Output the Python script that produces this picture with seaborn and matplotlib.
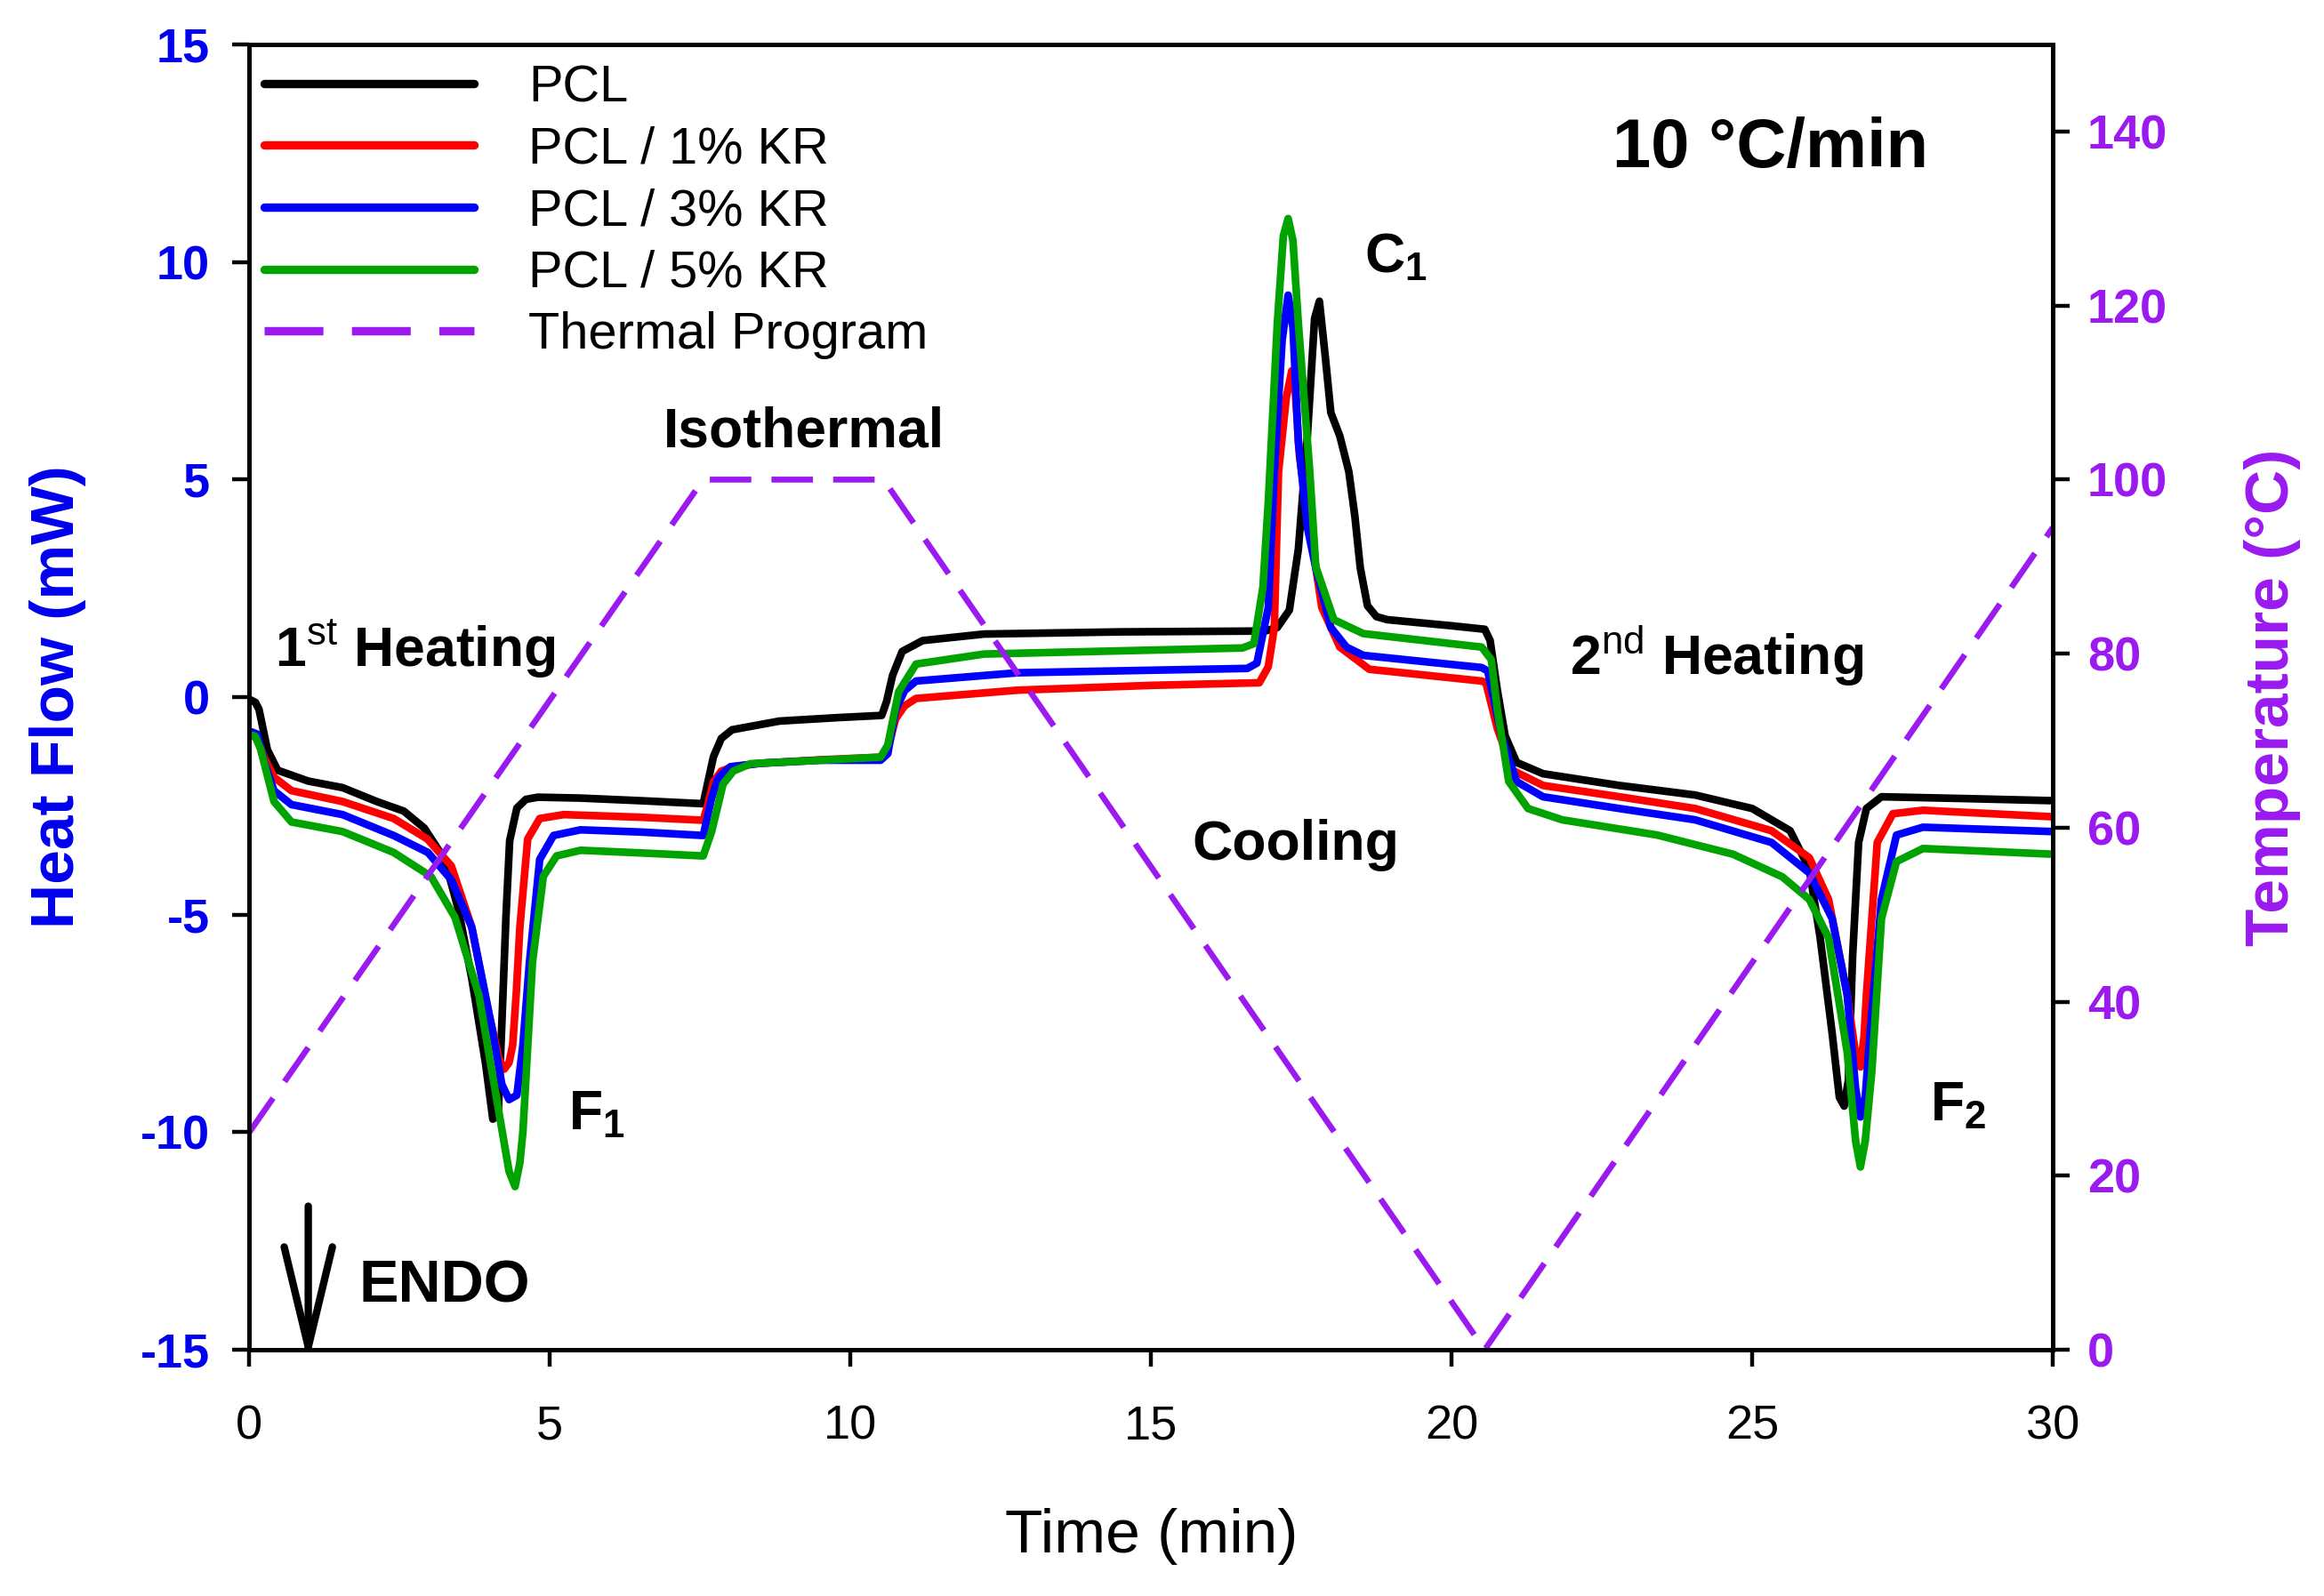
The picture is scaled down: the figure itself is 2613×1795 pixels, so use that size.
import numpy as np
import pandas as pd
import matplotlib
matplotlib.use("Agg")
import matplotlib.pyplot as plt
import seaborn as sns

# DSC traces: time (min) / heat flow (mW)
pcl_t = [0, 0.1, 0.16, 0.30, 0.47, 0.98, 1.55, 2.12, 2.57, 2.91, 3.25, 3.48, 3.70, 3.93,
         4.05, 4.14, 4.20, 4.27, 4.33, 4.45, 4.60, 4.80, 5.50, 6.50, 7.55, 7.62, 7.72, 7.85,
         8.03, 8.82, 9.80, 10.52, 10.60, 10.70, 10.86, 11.20, 12.22, 14.50, 16.90, 17.10,
         17.30, 17.45, 17.60, 17.72, 17.80, 17.90, 17.99, 18.14, 18.29, 18.39, 18.48, 18.60,
         18.75, 18.93, 20.00, 20.55, 20.64, 20.76, 20.89, 21.08, 21.52, 22.79, 24.05, 25.00,
         25.63, 25.95, 26.13, 26.33, 26.45, 26.53, 26.60, 26.67, 26.77, 26.90, 27.15, 28.50, 30.0]
pcl_y = [-0.05, -0.12, -0.28, -1.21, -1.68, -1.93, -2.08, -2.40, -2.62, -3.01, -3.73, -4.90, -6.47, -8.43,
         -9.70, -9.60, -7.50, -5.00, -3.30, -2.55, -2.35, -2.30, -2.32, -2.38, -2.45, -2.00, -1.37, -0.95,
         -0.75, -0.55, -0.47, -0.42, -0.10, 0.50, 1.05, 1.30, 1.45, 1.50, 1.52, 1.60,
         2.00, 3.40, 6.00, 8.70, 9.10, 7.80, 6.54, 6.00, 5.18, 4.16, 2.97, 2.10,
         1.85, 1.78, 1.64, 1.56, 1.30, 0.16, -0.89, -1.50, -1.76, -2.03, -2.25, -2.56,
         -3.07, -3.95, -5.53, -7.73, -9.20, -9.40, -8.80, -5.96, -3.34, -2.56, -2.29, -2.33, -2.38]

kr1_t = [0, 0.15, 0.25, 0.41, 0.70, 1.55, 2.40, 2.96, 3.36, 3.70, 3.98, 4.15, 4.24, 4.32, 4.38,
         4.44, 4.50, 4.63, 4.83, 5.23, 6.50, 7.55, 7.62, 7.72, 7.85, 8.05, 8.50, 9.50, 10.50,
         10.62, 10.75, 10.90, 11.09, 12.78, 15.00, 16.80, 16.95, 17.05, 17.12, 17.25, 17.34,
         17.40, 17.47, 17.64, 17.84, 18.14, 18.63, 20.50, 20.57, 20.76, 21.01, 21.52, 22.79,
         24.05, 25.32, 25.95, 26.27, 26.58, 26.72, 26.80, 26.86, 26.90, 27.08, 27.34, 27.84, 30.0]
kr1_y = [-0.80, -1.00, -1.40, -1.84, -2.15, -2.40, -2.79, -3.26, -3.88, -5.29, -7.25, -8.30, -8.55, -8.40, -8.00,
         -6.80, -5.29, -3.26, -2.79, -2.70, -2.76, -2.83, -2.50, -1.95, -1.70, -1.60, -1.52, -1.44, -1.38,
         -1.20, -0.50, -0.20, -0.03, 0.16, 0.27, 0.33, 0.70, 1.60, 5.18, 6.89, 7.50,
         7.00, 5.52, 3.89, 2.06, 1.15, 0.64, 0.37, 0.33, -0.72, -1.68, -2.03, -2.29,
         -2.56, -3.07, -3.69, -4.65, -6.84, -8.20, -8.50, -7.80, -6.84, -3.34, -2.68, -2.60, -2.75]

kr3_t = [0, 0.13, 0.25, 0.41, 0.70, 1.55, 2.40, 2.97, 3.36, 3.70, 4.04, 4.20, 4.32, 4.45, 4.55,
         4.66, 4.83, 5.06, 5.51, 6.50, 7.55, 7.69, 7.80, 8.00, 8.50, 9.50, 10.50, 10.62, 10.75,
         10.90, 11.09, 12.78, 16.60, 16.76, 16.95, 17.05, 17.18, 17.28, 17.36, 17.45, 17.60,
         17.74, 17.99, 18.25, 18.53, 20.50, 20.60, 20.83, 21.08, 21.52, 22.79, 24.05, 25.32,
         25.95, 26.33, 26.58, 26.72, 26.80, 26.88, 26.96, 27.15, 27.40, 27.84, 30.0]
kr3_y = [-0.78, -0.85, -1.50, -2.15, -2.47, -2.70, -3.18, -3.57, -4.20, -5.29, -7.64, -8.90, -9.25, -9.15, -8.00,
         -6.09, -3.73, -3.18, -3.05, -3.10, -3.18, -2.32, -1.85, -1.60, -1.52, -1.45, -1.45, -1.30, -0.30,
         0.15, 0.37, 0.56, 0.66, 0.78, 2.06, 5.18, 8.20, 9.24, 8.50, 5.86, 3.90,
         2.97, 1.60, 1.15, 0.96, 0.68, 0.60, -0.89, -1.94, -2.29, -2.56, -2.82, -3.34,
         -4.04, -5.09, -6.84, -9.00, -9.65, -9.20, -7.73, -4.65, -3.17, -2.99, -3.09]

kr5_t = [0, 0.10, 0.19, 0.41, 0.70, 1.55, 2.40, 3.02, 3.42, 3.82, 4.16, 4.32, 4.42, 4.50, 4.55,
         4.71, 4.89, 5.11, 5.51, 6.50, 7.55, 7.69, 7.88, 8.05, 8.34, 9.50, 10.50, 10.62, 10.80,
         11.09, 12.22, 16.52, 16.71, 16.86, 16.95, 17.10, 17.20, 17.28, 17.36, 17.45, 17.64,
         17.74, 18.04, 18.53, 20.50, 20.66, 20.76, 20.95, 21.27, 21.84, 23.42, 24.68, 25.50,
         25.95, 26.27, 26.58, 26.72, 26.80, 26.88, 26.99, 27.15, 27.40, 27.84, 30.0]
kr5_y = [-0.86, -0.90, -1.21, -2.40, -2.87, -3.09, -3.57, -4.12, -5.06, -6.86, -9.61, -10.90, -11.25, -10.70, -10.00,
         -6.09, -4.12, -3.65, -3.52, -3.58, -3.65, -3.09, -2.00, -1.70, -1.53, -1.45, -1.38, -1.10, 0.12,
         0.76, 0.99, 1.13, 1.23, 2.52, 4.49, 8.59, 10.60, 11.00, 10.50, 8.59, 5.18,
         3.00, 1.78, 1.46, 1.15, 0.86, -0.28, -1.94, -2.56, -2.82, -3.17, -3.61, -4.13,
         -4.65, -5.53, -8.16, -10.20, -10.80, -10.20, -8.60, -5.09, -3.78, -3.48, -3.61]

# thermal program: time (min) / temperature (°C)
prog_t = [0, 7.55, 10.55, 20.55, 30.0]
prog_T = [25, 100, 100, 0, 94.5]

series_labels = ["PCL", "PCL / 1% KR", "PCL / 3% KR", "PCL / 5% KR"]
series_colors = ["#000000", "#FF0000", "#0000FF", "#00A300"]
blue_axis = "#0000EE"
purple = "#9A1AF0"

sns.set_theme(style="white")
plt.rcParams['font.family'] = ['Liberation Sans', 'DejaVu Sans']
plt.rcParams['mathtext.fontset'] = 'custom'
plt.rcParams['mathtext.rm'] = 'Liberation Sans'
plt.rcParams['mathtext.bf'] = 'Liberation Sans:bold'
plt.rcParams['mathtext.it'] = 'Liberation Sans:italic'
plt.rcParams['axes.unicode_minus'] = False
plt.rcParams['text.color'] = 'black'
plt.rcParams['axes.labelcolor'] = 'black'

fig = plt.figure(figsize=(13.065, 8.975), dpi=200)
ax = fig.add_axes([0.1073, 0.1543, 0.7760, 0.8178])
ax2 = ax.twinx()

curves = [(pcl_t, pcl_y), (kr1_t, kr1_y), (kr3_t, kr3_y), (kr5_t, kr5_y)]
for (tt, yy), lab, col in zip(curves, series_labels, series_colors):
    sns.lineplot(x=tt, y=yy, ax=ax, color=col, linewidth=3.1, estimator=None,
                 sort=False, label=lab, legend=False)

sns.lineplot(x=prog_t, y=prog_T, ax=ax2, color=purple, linewidth=2.4, estimator=None,
             sort=False, label="Thermal Program", legend=False)
ax2.lines[0].set_dashes((7, 3.4))

ax.set_xlim(0, 30)
ax.set_ylim(-15, 15)
ax2.set_ylim(0, 150)
ax.set_xticks(range(0, 31, 5))
ax.set_yticks(range(-15, 16, 5))
ax2.set_yticks(range(0, 141, 20))

for a in (ax, ax2):
    for s in a.spines.values():
        s.set_linewidth(1.8)
        s.set_color("black")

ax.tick_params(axis="x", direction="out", length=7, width=1.6, labelsize=19.5, pad=15,
               bottom=True, top=False, colors="black")
ax.tick_params(axis="y", direction="out", length=7, width=1.6, labelsize=19.5, pad=9,
               left=True, labelcolor=blue_axis, color="black")
ax2.tick_params(axis="y", direction="out", length=7, width=1.6, labelsize=19.5, pad=7,
                right=True, labelcolor=purple, color="black")
for lab in ax.get_yticklabels() + ax2.get_yticklabels():
    lab.set_fontweight("bold")

ax.set_xlabel("Time (min)", fontsize=25, labelpad=24)
ax.set_ylabel("Heat Flow (mW)", fontsize=25, fontweight="bold", color=blue_axis, labelpad=22)
ax2.set_ylabel("Temperature (°C)", fontsize=25, fontweight="bold", color=purple, labelpad=31)

handles = ax.get_lines()[:4] + ax2.get_lines()[:1]
labels = series_labels + ["Thermal Program"]
leg = ax.legend(handles, labels, loc="upper left", bbox_to_anchor=(0.008, 0.985),
                frameon=False, fontsize=20.8, handlelength=4.1, handletextpad=1.05,
                labelspacing=0.27, borderpad=0, borderaxespad=0)
for h in leg.legend_handles:
    h.set_linewidth(3.4)

txt = dict(fontsize=22.5, fontweight="bold", color="black")
ax.text(0.42, 1.1, r"1$^{\rm st}$ Heating", ha="left", va="center", **txt)
ax.text(9.22, 6.1, "Isothermal", ha="center", va="center", **txt)
ax.text(18.55, 10.1, r"C$_{\mathbf{1}}$", ha="left", va="center", **txt)
ax.text(17.4, -3.4, "Cooling", ha="center", va="center", **txt)
ax.text(24.4, 0.95, r"2$^{\rm nd}$ Heating", ha="center", va="center", **txt)
ax.text(5.3, -9.6, r"F$_{\mathbf{1}}$", ha="left", va="center", **txt)
ax.text(27.95, -9.4, r"F$_{\mathbf{2}}$", ha="left", va="center", **txt)
ax.text(25.3, 12.6, "10 °C/min", ha="center", va="center", fontsize=28, fontweight="bold")
ax.text(1.82, -13.55, "ENDO", ha="left", va="center", fontsize=24, fontweight="bold")
ax.annotate("", xy=(0.98, -15.3), xytext=(0.98, -11.7),
            arrowprops=dict(arrowstyle="->,head_length=2.7,head_width=0.65", lw=3,
                            mutation_scale=15, color="black", shrinkA=0, shrinkB=0),
            annotation_clip=False)

fig.savefig("out.png", dpi=200)
